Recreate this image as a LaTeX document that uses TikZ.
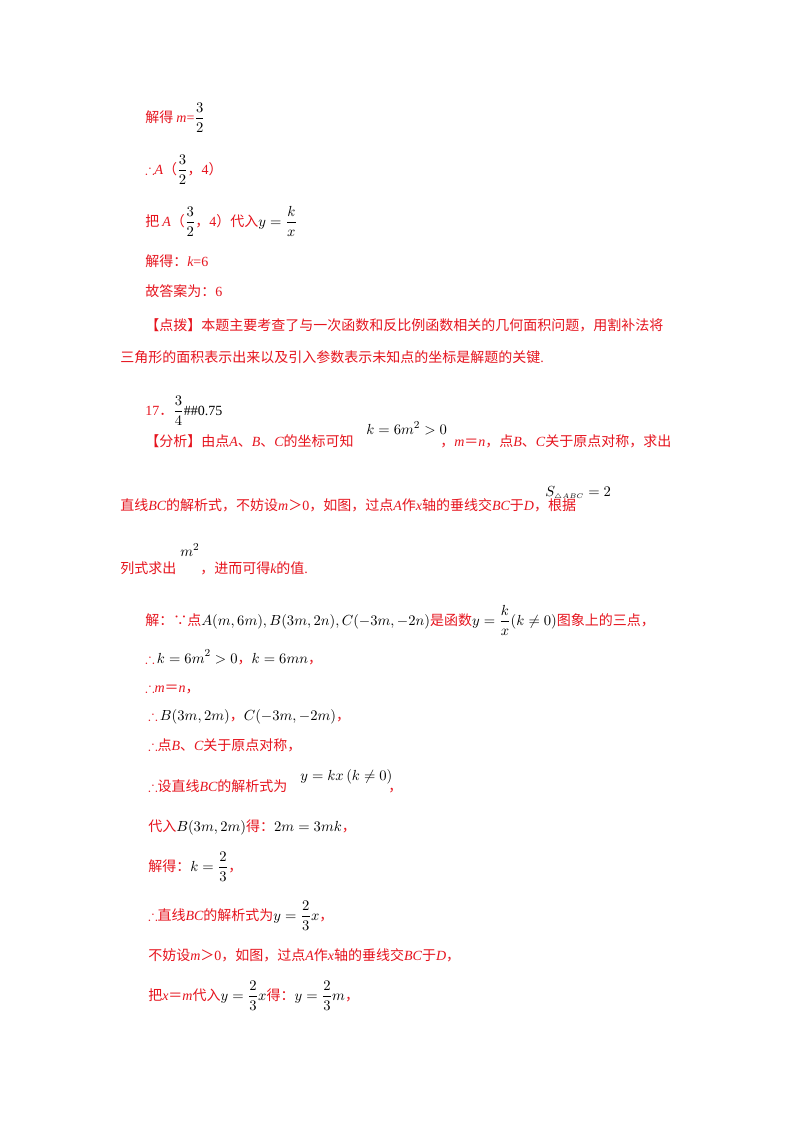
\documentclass[tikz,border=0pt]{standalone}
\usepackage{amsmath,amssymb}
\usepackage{fontspec}
\setmainfont{Liberation Serif}
\newfontfamily\cjk{Noto Sans CJK SC}
\definecolor{tred}{RGB}{230,20,30}
\newcommand{\Mb}[1]{{\color{black}\fontsize{11}{12}\selectfont$\displaystyle #1$}}
\newcommand{\I}[1]{{\normalfont\itshape #1}}
\newcommand{\R}[1]{{\normalfont #1}}
\begin{document}
\begin{tikzpicture}[x=0.75pt,y=-0.75pt,
  ln/.style={anchor=base west,inner sep=0pt,text=tred,font=\cjk\fontsize{10.5}{12}\selectfont},
  mt/.style={anchor=base west,inner sep=0pt,text=black,font=\fontsize{11}{12}\selectfont}]
\fill[white] (0,0) rectangle (800,1132);
\node[ln] (l1) at (145,122) {解得 \I{m}\R{=}\Mb{\frac{3}{2}}};
\node[ln] (l2) at (145,174) {$\therefore$\I{A}（\Mb{\frac{3}{2}}，\R{4}）};
\node[ln] (l3) at (145,226) {把 \I{A}（\Mb{\frac{3}{2}}，\R{4}）代入\Mb{y=\frac{k}{x}}};
\node[ln] (l4) at (145,266) {解得：\I{k}\R{=6}};
\node[ln] (l5) at (145,296) {故答案为：\R{6}};
\node[ln] (l6) at (145,330) {【点拨】本题主要考查了与一次函数和反比例函数相关的几何面积问题，用割补法将};
\node[ln] (l7) at (120,362) {三角形的面积表示出来以及引入参数表示未知点的坐标是解题的关键\R{.}};
\node[ln] (l8) at (145,415) {\R{17}．\Mb{\frac{3}{4}}{\color{black}\R{\#\#0.75}}};
\node[ln] (l9) at (145,446) {【分析】由点\I{A}、\I{B}、\I{C}的坐标可知};
\node[mt] (f9) at (366,434) {$k=6m^2>0$};
\node[ln] (l9b) at (440,446) {，\I{m}＝\I{n}，点\I{B}、\I{C}关于原点对称，求出};
\node[ln] (l10) at (120,510) {直线\I{BC}的解析式，不妨设\I{m}＞\R{0}，如图，过点\I{A}作\I{x}轴的垂线交\I{BC}于\I{D}，根据};
\node[mt] (f10) at (545,496) {$S_{\scriptscriptstyle\triangle ABC}=2$};
\node[ln] (l11) at (120,573) {列式求出};
\node[mt] (f11) at (180,556) {$m^2$};
\node[ln] (l11b) at (200,573) {，进而可得\I{k}的值\R{.}};
\node[ln] (l12) at (145,625) {解：∵点\Mb{A(m,6m),B(3m,2n),C(-3m,-2n)}是函数\Mb{y=\frac{k}{x}(k\neq0)}图象上的三点，};
\node[ln] (l13) at (145,663) {$\therefore$\,\Mb{k=6m^2>0}，\Mb{k=6mn}，};
\node[ln] (l14) at (145,692) {$\therefore$\I{m}＝\I{n}，};
\node[ln] (l15) at (148,720) {$\therefore$\,\Mb{B(3m,2m)}，\Mb{C(-3m,-2m)}，};
\node[ln] (l16) at (148,750) {$\therefore$点\I{B}、\I{C}关于原点对称，};
\node[ln] (l17) at (148,791) {$\therefore$设直线\I{BC}的解析式为};
\node[mt] (f17) at (300,780) {$y=kx\left(k\neq0\right)$};
\node[ln] (l17b) at (388,791) {，};
\node[ln] (l18) at (148,831) {代入\Mb{B(3m,2m)}得：\Mb{2m=3mk}，};
\node[ln] (l19) at (148,871) {解得：\Mb{k=\frac{2}{3}}，};
\node[ln] (l20) at (148,920) {$\therefore$直线\I{BC}的解析式为\Mb{y=\frac{2}{3}x}，};
\node[ln] (l21) at (148,960) {不妨设\I{m}＞\R{0}，如图，过点\I{A}作\I{x}轴的垂线交\I{BC}于\I{D}，};
\node[ln] (l22) at (148,1000) {把\I{x}＝\I{m}代入\Mb{y=\frac{2}{3}x}得：\Mb{y=\frac{2}{3}m}，};
\end{tikzpicture}
\end{document}
